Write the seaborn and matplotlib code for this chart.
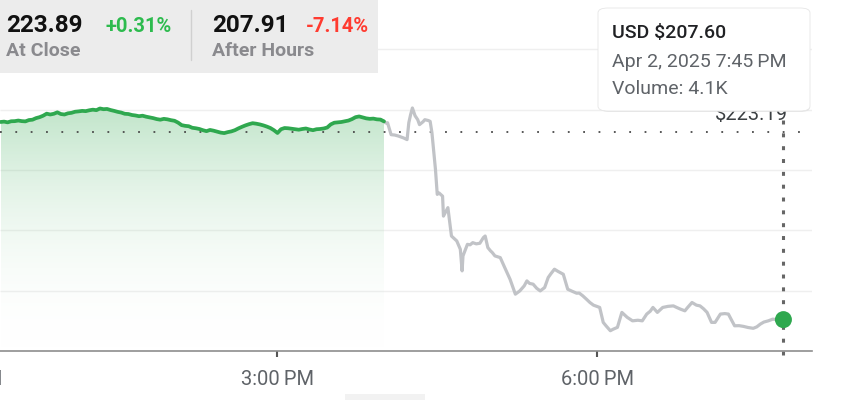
import numpy as np
import pandas as pd
import matplotlib.pyplot as plt
from matplotlib.patches import FancyBboxPatch, Rectangle
from matplotlib.colors import LinearSegmentedColormap
import seaborn as sns

# regular session, minutes after 12:00 PM and price
session_min = [24, 26, 28, 30, 32, 34, 36, 38, 40, 42, 44, 46, 48, 50, 52, 54, 56, 58, 60, 62,
               64, 66, 68, 70, 72, 74, 76, 78, 80, 82, 84, 86, 88, 90, 92, 94, 96, 98, 100, 102,
               104, 106, 108, 110, 112, 114, 116, 118, 120, 122, 124, 126, 128, 130, 132, 134, 136, 138, 140, 142,
               144, 146, 148, 150, 152, 154, 156, 158, 160, 162, 164, 166, 168, 170, 172, 174, 176, 178, 180, 182,
               184, 186, 188, 190, 192, 194, 196, 198, 200, 202, 204, 206, 208, 210, 212, 214, 216, 218, 220, 222,
               224, 226, 228, 230, 232, 234, 236, 238, 240]
session_price = [223.98, 224.01, 223.95, 224.04, 224.05, 224.10, 224.05, 224.03, 224.14, 224.17,
                 224.30, 224.38, 224.50, 224.67, 224.60, 224.66, 224.78, 224.64, 224.60, 224.70,
                 224.74, 224.83, 224.86, 224.90, 224.88, 224.95, 225.00, 224.96, 225.10, 225.04,
                 225.06, 224.97, 224.90, 224.82, 224.76, 224.66, 224.64, 224.56, 224.52, 224.46,
                 224.50, 224.42, 224.36, 224.30, 224.22, 224.17, 224.24, 224.20, 224.13, 224.08,
                 223.93, 223.72, 223.66, 223.63, 223.50, 223.46, 223.40, 223.30, 223.22, 223.32,
                 223.26, 223.18, 223.10, 223.06, 223.14, 223.20, 223.30, 223.45, 223.58, 223.70,
                 223.80, 223.88, 223.84, 223.78, 223.70, 223.60, 223.48, 223.30, 223.07, 223.38,
                 223.48, 223.46, 223.42, 223.38, 223.34, 223.40, 223.44, 223.36, 223.30, 223.38,
                 223.40, 223.44, 223.52, 223.78, 223.92, 223.95, 223.98, 224.04, 224.10, 224.22,
                 224.38, 224.44, 224.36, 224.28, 224.24, 224.26, 224.20, 224.18, 224.03]

# after hours
after_min = [240, 241, 242, 244, 246, 248, 251, 253, 254, 255, 256, 257.5, 259, 260, 262, 263, 265, 266,
             267, 269, 270, 271, 273, 273.5, 276, 278, 281, 283, 284, 284.5, 287, 288.5, 290, 292, 294,
             296, 297, 298.5, 300, 301, 302.5, 305.5, 308, 311, 314, 316.5, 319, 320.5, 322, 324, 326,
             328, 330.5, 332.5, 334, 336, 338, 341, 343.5, 346, 348.5, 350, 352, 354, 356, 358, 361.5,
             363.5, 365, 367.5, 369, 371.5, 374, 377, 380, 383, 385.5, 388, 390, 391.5, 394, 397, 400,
             403, 405, 407, 409.5, 411, 413.5, 416, 418, 420, 422, 424.5, 426.5, 429.5, 432, 434, 436,
             437.5, 440, 442.5, 445, 448, 450, 452, 454, 456.5, 459, 462, 465]
after_price = [224.03, 223.90, 223.92, 222.93, 222.90, 222.82, 222.66, 222.52, 223.93, 224.59, 225.14,
               224.50, 224.17, 223.76, 224.00, 224.17, 224.10, 224.03, 223.10, 220.04, 217.98, 218.10,
               217.83, 216.18, 216.88, 214.53, 214.12, 213.43, 211.64, 212.88, 213.84, 213.80, 213.98,
               213.88, 213.93, 214.40, 214.53, 213.57, 213.30, 213.16, 212.88, 212.74, 211.92, 210.95,
               209.71, 209.98, 210.40, 210.81, 210.60, 210.54, 210.20, 209.98, 210.26, 211.09, 211.40,
               211.78, 211.60, 211.36, 210.12, 209.95, 209.79, 209.80, 209.57, 209.30, 209.02, 208.80,
               208.61, 207.37, 207.10, 206.68, 206.80, 206.96, 208.20, 207.79, 207.50, 207.55, 207.50,
               208.06, 208.30, 208.61, 208.20, 208.61, 208.70, 208.74, 208.60, 208.47, 208.33, 208.60,
               209.02, 208.80, 208.74, 208.50, 208.20, 207.37, 207.37, 208.06, 208.10, 208.06, 207.50,
               207.09, 207.10, 207.04, 206.95, 206.88, 207.00, 207.23, 207.40, 207.50, 207.64, 207.58,
               207.60]

prev_close = 223.19
close_price = '223.89'
close_change = '+0.31%'
ah_price = '207.91'
ah_change = '-7.14%'
tip_price = 'USD $207.60'
tip_time = 'Apr 2, 2025 7:45\u2009PM'
tip_volume = 'Volume: 4.1K'

tick_min = [0, 180, 360]
tick_labels = ['12:00\u2009PM', '3:00\u2009PM', '6:00\u2009PM']
grid_levels = [210, 215, 220, 225, 230]

GREEN = '#2fa84f'
GRAY_LINE = '#c1c3c7'
TEXT_GRAY = '#5f6368'

df_s = pd.DataFrame({'t': session_min, 'price': session_price})
df_a = pd.DataFrame({'t': after_min, 'price': after_price})

sns.set_theme(style='white')
plt.rcParams['font.family'] = ['Roboto', 'DejaVu Sans']

fig = plt.figure(figsize=(8.42, 4.0), dpi=100)
ax = fig.add_axes([0, 49 / 400, 812 / 842, 351 / 400])

x0, x1 = 23.7, 481.1
y0, y1 = 205.0, 234.09

# grid
ax.hlines(grid_levels, x0, x1, color='#efefef', lw=1, zorder=0)

# gradient fill under session line
fill = ax.fill_between(df_s['t'], df_s['price'], y0, color='none', lw=0)
grad = np.linspace(0, 1, 256).reshape(-1, 1)
cmap = LinearSegmentedColormap.from_list('g', [(1, 1, 1, 0), (0.19, 0.66, 0.31, 0.30)])
im = ax.imshow(grad, extent=[df_s['t'].min(), df_s['t'].max(), y0, df_s['price'].max()],
               origin='lower', aspect='auto', cmap=cmap, zorder=1, interpolation='bilinear')
im.set_clip_path(fill.get_paths()[0], transform=ax.transData)

# previous close dotted line
ax.axhline(prev_close, color='#4a4a4a', lw=1.3, linestyle=(0, (1, 7.5)), zorder=2)

sns.lineplot(data=df_a, x='t', y='price', ax=ax, color=GRAY_LINE, lw=2.3, legend=False, zorder=3)
sns.lineplot(data=df_s, x='t', y='price', ax=ax, color=GREEN, lw=2.7, legend=False, zorder=4)

# crosshair at last point
last_t = after_min[-1]
ax.plot([last_t, last_t], [y0 - 0.3, prev_close + 1.5], color='#666666', lw=2.2,
        linestyle=(0, (1.3, 2.9)), clip_on=False, zorder=2)
sns.scatterplot(x=[last_t], y=[after_price[-1]], ax=ax, s=150, color=GREEN,
                edgecolor='none', zorder=6, legend=False)

ax.annotate('$%.2f' % prev_close, xy=(last_t, prev_close), xytext=(3, 8.5),
            textcoords='offset points', ha='right', va='baseline', fontsize=14.5,
            color='#3c4043', zorder=3)

ax.set_xlim(x0, x1)
ax.set_ylim(y0, y1)
ax.set_yticks([])
ax.set_xlabel('')
ax.set_ylabel('')
for side in ['top', 'left', 'right']:
    ax.spines[side].set_visible(False)
ax.spines['bottom'].set_color('#8e8e8e')
ax.spines['bottom'].set_linewidth(1.2)

in_view = [(m, l) for m, l in zip(tick_min, tick_labels) if x0 <= m <= x1]
ax.set_xticks([m for m, _ in in_view])
ax.set_xticklabels([l for _, l in in_view])
ax.tick_params(axis='x', length=4, width=1.5, color='#555555', pad=10,
               labelsize=14.5, labelcolor=TEXT_GRAY, bottom=True)
# the 12:00 PM label sits mostly off the left edge
for m, l in zip(tick_min, tick_labels):
    if m < x0:
        ax.annotate(l, xy=(m, 0), xycoords=('data', 'axes fraction'), xytext=(1.8, -14),
                    textcoords='offset points', ha='center', va='top', fontsize=14.5,
                    color=TEXT_GRAY, annotation_clip=False)

# header block
fig.patches.append(Rectangle((0, 1 - 73 / 400), 378 / 842, 73 / 400, transform=fig.transFigure,
                             facecolor='#ececec', edgecolor='none', zorder=4))
fig.lines.append(plt.Line2D([191 / 842, 191 / 842], [1 - 60 / 400, 1 - 10 / 400],
                            transform=fig.transFigure, color='#d0d0d0', lw=1, zorder=5))
hdr = dict(zorder=6)
fig.text(6 / 842, 1 - 32 / 400, close_price, fontsize=17.5, fontweight='bold', color='#111111', **hdr)
fig.text(106 / 842, 1 - 32 / 400, close_change, fontsize=14.5, fontweight='semibold', color='#2dbb4e', **hdr)
fig.text(6 / 842, 1 - 56 / 400, 'At Close', fontsize=14, fontweight='bold', color='#8a8a8e', **hdr)
fig.text(212 / 842, 1 - 32 / 400, ah_price, fontsize=17.5, fontweight='bold', color='#111111', **hdr)
fig.text(306 / 842, 1 - 32 / 400, ah_change, fontsize=14.5, fontweight='semibold', color='#ff3b30', **hdr)
fig.text(212 / 842, 1 - 56 / 400, 'After Hours', fontsize=14, fontweight='bold', color='#8a8a8e', **hdr)

# tooltip
fig.patches.append(FancyBboxPatch((600 / 842, 1 - 112 / 400), 210 / 842, 102 / 400,
                                  boxstyle='round,pad=0,rounding_size=0.012',
                                  transform=fig.transFigure, facecolor='#d9d9d9',
                                  edgecolor='none', alpha=0.6, zorder=5))
fig.patches.append(FancyBboxPatch((598 / 842, 1 - 111 / 400), 212 / 842, 103 / 400,
                                  boxstyle='round,pad=0,rounding_size=0.012',
                                  transform=fig.transFigure, facecolor='white',
                                  edgecolor='#e6e6e6', lw=0.6, zorder=6))
fig.text(612 / 842, 1 - 38 / 400, tip_price, fontsize=14, fontweight='medium', color='#202124', zorder=7)
fig.text(612 / 842, 1 - 67 / 400, tip_time, fontsize=14, color=TEXT_GRAY, zorder=7)
fig.text(612 / 842, 1 - 94 / 400, tip_volume, fontsize=14, color=TEXT_GRAY, zorder=7)

# scroll handle at bottom
fig.patches.append(Rectangle((345 / 842, 0), 80 / 842, 6 / 400, transform=fig.transFigure,
                             facecolor='#f2f2f2', edgecolor='none', zorder=1))

fig.savefig('out.png', dpi=100)
